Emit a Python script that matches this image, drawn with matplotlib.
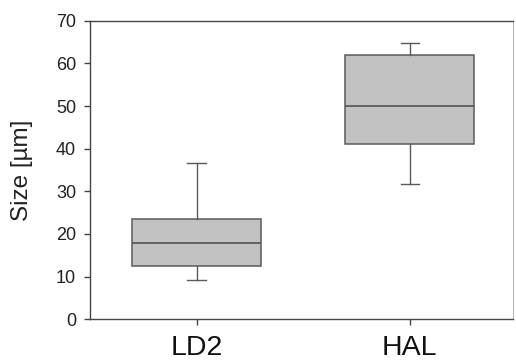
import matplotlib
matplotlib.use("Agg")
import matplotlib.pyplot as plt

plt.rcParams['font.family'] = ['Liberation Sans', 'DejaVu Sans']

# box statistics
groups = ['LD2', 'HAL']
q1 = [12.5, 41.1]
median = [17.8, 49.9]
q3 = [23.5, 62.0]
whis_lo = [9.2, 31.8]
whis_hi = [36.6, 64.8]

stats = []
for i, g in enumerate(groups):
    stats.append({'label': g, 'q1': q1[i], 'med': median[i], 'q3': q3[i],
                  'whislo': whis_lo[i], 'whishi': whis_hi[i], 'fliers': []})

fig = plt.figure(figsize=(5.16, 3.64), dpi=100)
ax = fig.add_axes([0.1744, 0.1228, 0.8196, 0.8202])

edge = '#5a5a5a'
ax.bxp(stats, positions=[1, 2], widths=0.605, patch_artist=True,
       showfliers=False, capwidths=0.085,
       boxprops=dict(facecolor='#c2c2c2', edgecolor=edge, linewidth=1.1),
       medianprops=dict(color=edge, linewidth=1.3),
       whiskerprops=dict(color=edge, linewidth=1.0),
       capprops=dict(color=edge, linewidth=1.0))

ax.set_xlim(0.5, 2.485)
ax.set_ylim(0, 70)
ax.set_yticks(range(0, 71, 10))
ax.set_xticks([1, 2])
ax.set_xticklabels(groups, fontsize=20.5, color='#111111')
ax.tick_params(axis='y', labelsize=13, colors='#222222', length=4.5, width=1,
               color='#444444', pad=5.5)
ax.tick_params(axis='x', length=4, width=1, color='#444444', pad=7.5)
ax.set_ylabel('Size [µm]', fontsize=17.5, color='#222222')
ax.yaxis.set_label_coords(-0.135, 0.5)

for s in ['left', 'bottom', 'top']:
    ax.spines[s].set_color('#444444')
    ax.spines[s].set_linewidth(1.0)
ax.spines['right'].set_color('#bbbbbb')
ax.spines['right'].set_linewidth(0.8)

fig.savefig('out.png', dpi=100)
